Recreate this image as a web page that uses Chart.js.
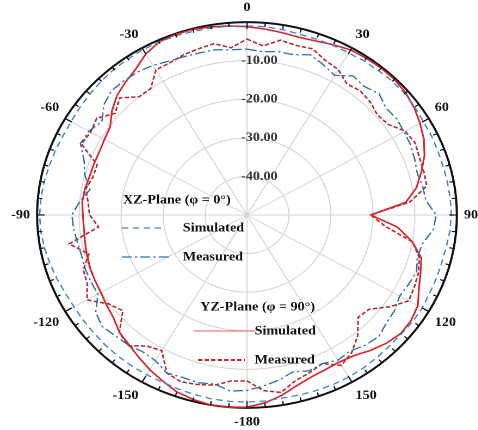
<!DOCTYPE html>
<html>
<head>
<meta charset="utf-8">
<script src="https://cdn.jsdelivr.net/npm/chart.js@4.4.0/dist/chart.umd.min.js"></script>
<style>
  html, body { margin: 0; padding: 0; background: #fff; overflow: hidden; }
  body { width: 478px; height: 430px; position: relative; }
  #wrap { position: absolute; left: 0; top: 0; width: 460px; height: 431px;
          transform: scaleX(1.088); transform-origin: 0 0; }
</style>
</head>
<body>
<div id="wrap"><canvas id="pattern"></canvas></div>
<script>
// angles in degrees, clockwise from top
const angles = [0, 5, 10, 15, 20, 25, 30, 35, 40, 45, 50, 55, 60, 65, 70, 75, 80, 85,
    90, 95, 100, 105, 110, 115, 120, 125, 130, 135, 140, 145, 150, 155, 160, 165, 170, 175,
    180, 185, 190, 195, 200, 205, 210, 215, 220, 225, 230, 235, 240, 245, 250, 255, 260, 265,
    270, 275, 280, 285, 290, 295, 300, 305, 310, 315, 320, 325, 330, 335, 340, 345, 350, 355];

// labels shown every 30 degrees
const angleTickLabels = ['0', '30', '60', '90', '120', '150', '-180', '-150', '-120', '-90', '-60', '-30'];

// XZ-plane, simulated (dB)
const xzSimulated = [-1, -1, -1.2, -1.5, -1.5, -1.5, -1.5, -1.3, -1.2, -1, -1, -1.2, -1.5, -1.5, -1.6, -1.6, -1.5, -1.4,
    -1.3, -1.5, -1.8, -2, -2, -2, -1.8, -1.8, -2, -2, -1.8, -1.6, -1.5, -1.5, -1.6, -1.7, -1.8, -1.6,
    -1.5, -1.5, -1.6, -1.8, -2, -2.2, -2.2, -2.2, -2.2, -2.3, -2.4, -2.4, -2.4, -2.2, -1.8, -1.4, -1, -0.7,
    -0.6, -0.7, -0.9, -1.2, -1.4, -1.6, -1.6, -1.4, -1.2, -0.9, -0.7, -0.6, -0.5, -0.5, -0.6, -0.7, -0.8, -0.9];

// XZ-plane, measured (dB)
const xzMeasured = [-7, -7.5, -7, -7, -5.8, -7, -8.2, -6, -6.5, -5.5, -6.8, -6.5, -6.8, -7, -7.5, -8, -7.5, -7.2,
    -4.9, -5.5, -7.5, -8, -7, -7.5, -8, -7, -6.6, -5.5, -6, -7, -6.6, -7.5, -7, -7.9, -6.5, -5.5,
    -4.5, -4.2, -5.5, -5, -5.2, -4.8, -6.4, -6.7, -6, -5.7, -5, -6, -9, -9, -9, -9.2, -9, -8.5,
    -8.3, -10, -12, -10, -8.7, -6.2, -6.5, -7.8, -5.5, -4.4, -4.5, -4.7, -5.2, -6, -6.3, -6.5, -6.5, -7];

// YZ-plane, simulated (dB)
const yzSimulated = [-1.2, -1.6, -2, -2.3, -2, -1.3, -0.6, -0.4, -0.3, -0.3, -0.7, -1.4, -2.4, -3.5, -5, -7, -9, -12,
    -20.5, -14, -10, -7, -6, -4.8, -3, -2.3, -2.2, -3, -4.2, -5.5, -6, -5.8, -5.3, -4.2, -2.5, -1.1,
    -0.2, 0, 0, -0.5, -1.2, -2.5, -3.7, -5, -6.2, -7, -8.5, -9.2, -9.8, -10, -10.2, -10.5, -10.8, -11,
    -10.9, -10.6, -10.8, -11.2, -11.2, -11.2, -10.8, -10.2, -8, -6.2, -5, -3.8, -1.8, -0.5, -0.2, -0.2, -0.5, -0.8];

// YZ-plane, measured (dB)
const yzMeasured = [-4.4, -6, -4, -4.5, -4.2, -5.8, -6.5, -8.5, -8, -8.5, -9.5, -9, -6.5, -5.8, -6.3, -6.4, -6.5, -11,
    -20.5, -17, -10, -7.5, -6.5, -6, -5.5, -8.5, -12, -12.5, -9, -6.5, -5, -7.5, -6.5, -5.5, -3.3, -4.3,
    -7, -6.8, -5.2, -4.5, -4, -4.8, -9.4, -8.5, -5.8, -7, -11.4, -9.8, -6, -8, -8.5, -11, -7, -14.5,
    -12.5, -12, -11, -12, -12, -6.5, -7, -6.3, -9, -7.1, -10, -10, -6.6, -6.5, -5.8, -5.4, -4.9, -6.5];

const serif = '"Liberation Serif", "Times New Roman", serif';

// outer ring ticks every 5 degrees
const ringTicks = {
    id: 'ringTicks',
    afterDraw(chart) {
        const scale = chart.scales.r;
        const ctx = chart.ctx;
        const outer = scale.getDistanceFromCenterForValue(0);
        ctx.save();
        ctx.strokeStyle = '#111';
        ctx.lineWidth = 1.2;
        for (let i = 0; i < angles.length; i++) {
            const len = i % 6 === 0 ? 7 : 4;
            const a = scale.getPointPosition(i, outer);
            const b = scale.getPointPosition(i, outer - len);
            ctx.beginPath();
            ctx.moveTo(a.x, a.y);
            ctx.lineTo(b.x, b.y);
            ctx.stroke();
        }
        ctx.restore();
    }
};

// legend drawn inside the plot
const legendBox = {
    id: 'legendBox',
    afterDraw(chart) {
        const ctx = chart.ctx;
        const items = [
            { text: 'XZ-Plane (φ = 0°)', x: 113, y: 200 },
            { text: 'Simulated', x: 168, y: 228, line: [112, 150], color: '#3d85c6', dash: [6, 4], width: 1.3 },
            { text: 'Measured', x: 168, y: 257, line: [112, 155], color: '#2b6ea8', dash: [9, 3, 2, 3], width: 1.3 },
            { text: 'YZ-Plane (φ = 90°)', x: 184, y: 307 },
            { text: 'Simulated', x: 234, y: 331, line: [178, 234], color: '#e06060', dash: [], width: 1 },
            { text: 'Measured', x: 234, y: 360, line: [182, 225], color: '#c0282e', dash: [4, 2], width: 2 }
        ];
        ctx.save();
        ctx.font = 'bold 13px ' + serif;
        ctx.fillStyle = '#111';
        ctx.textBaseline = 'middle';
        ctx.textAlign = 'left';
        items.forEach(it => {
            if (it.line) {
                ctx.beginPath();
                ctx.strokeStyle = it.color;
                ctx.lineWidth = it.width;
                ctx.setLineDash(it.dash);
                ctx.moveTo(it.line[0], it.y);
                ctx.lineTo(it.line[1], it.y);
                ctx.stroke();
                ctx.setLineDash([]);
            }
            ctx.fillText(it.text, it.x, it.y);
        });
        ctx.restore();
    }
};

const ctx = document.getElementById('pattern').getContext('2d');
new Chart(ctx, {
    type: 'radar',
    data: {
        labels: angles,
        datasets: [
            { label: 'XZ Simulated', data: xzSimulated, borderColor: '#3d85c6', borderWidth: 1.3, borderDash: [6, 4] },
            { label: 'XZ Measured', data: xzMeasured, borderColor: '#2b6ea8', borderWidth: 1.3, borderDash: [9, 3, 2, 3] },
            { label: 'YZ Simulated', data: yzSimulated, borderColor: '#d6262c', borderWidth: 1.6, borderDash: [] },
            { label: 'YZ Measured', data: yzMeasured, borderColor: '#b5232b', borderWidth: 1.5, borderDash: [4, 2] }
        ]
    },
    options: {
        responsive: true,
        maintainAspectRatio: false,
        animation: false,
        devicePixelRatio: 2,
        layout: { padding: { left: 0, right: 10, top: 0, bottom: 0 } },
        elements: {
            point: { radius: 0, hoverRadius: 0 },
            line: { fill: false, tension: 0 }
        },
        plugins: {
            legend: { display: false },
            tooltip: { enabled: false }
        },
        scales: {
            r: {
                min: -50,
                max: 0,
                ticks: {
                    stepSize: 10,
                    showLabelBackdrop: false,
                    color: '#333',
                    font: { family: serif, size: 13, weight: 'bold' },
                    callback: v => (v === 0 || v === -50) ? '' : '       ' + v.toFixed(2)
                },
                grid: {
                    circular: true,
                    color: c => c.tick && c.tick.value === 0 ? '#111' : '#d4d4d4',
                    lineWidth: c => c.tick && c.tick.value === 0 ? 2 : 1
                },
                angleLines: {
                    color: '#d4d4d4',
                    lineWidth: c => c.index % 6 === 0 ? 1 : 0
                },
                pointLabels: {
                    color: '#111',
                    padding: -2,
                    font: { family: serif, size: 13, weight: 'bold' },
                    callback: (label, i) => i % 6 === 0 ? angleTickLabels[i / 6] : ''
                }
            }
        }
    },
    plugins: [ringTicks, legendBox]
});
</script>
</body>
</html>
